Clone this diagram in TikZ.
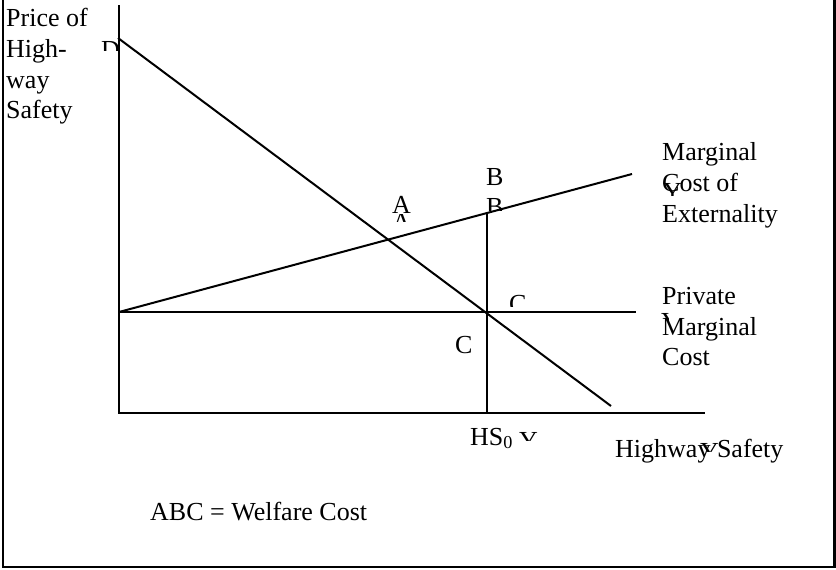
\documentclass[tikz,border=0pt]{standalone}
\usepackage{fontspec}
\setmainfont{Liberation Serif}
\begin{document}
\begin{tikzpicture}[x=1pt,y=-1pt,
  lbl/.style={anchor=base west,inner sep=0pt,font=\fontsize{26}{30}\selectfont},
  curve/.style={line width=2pt},
  frame/.style={line width=2.8pt}]
\useasboundingbox (0,0) rectangle (836,570);
% frame
\draw[frame] (3,-2) -- (3,567) -- (834.3,567) -- (834.3,-2);
% coordinates
\coordinate (ytop) at (119,5);
\coordinate (origin) at (119,413);
\coordinate (xend) at (705,413);
\coordinate (dstart) at (118,38);
\coordinate (dend) at (611,406);
\coordinate (pmcL) at (119,312);
\coordinate (pmcR) at (636,312);
\coordinate (mceR) at (632,174);
\coordinate (hsB) at (487,413);
\coordinate (hsT) at (487,213);
% axes
\draw[curve] (ytop) -- (origin) -- (xend);
% demand
\draw[curve] (dstart) -- (dend);
% private marginal cost
\draw[curve] (pmcL) -- (pmcR);
% marginal cost of externality
\draw[curve] (pmcL) -- (mceR);
% HS0 vertical
\draw[curve] (hsB) -- (hsT);
% labels
\node[lbl] (p1) at (6,26) {Price of};
\node[lbl] (p2) at (6,57) {High-};
\node[lbl] (p3) at (6,88) {way};
\node[lbl] (p4) at (6,118) {Safety};
\node[lbl] (la) at (392,213) {A};
\node[lbl] (lb) at (486,185) {B};
\node[lbl] (lc) at (455,353) {C};
\node[lbl] (m1) at (662,160) {Marginal};
\node[lbl] (m2) at (662,191) {Cost of};
\node[lbl] (m3) at (662,222) {Externality};
\node[lbl] (q1) at (662,304) {Private};
\node[lbl] (q2) at (662,335) {Marginal};
\node[lbl] (q3) at (662,365) {Cost};
\node[lbl] (hs) at (470,445) {HS\textsubscript{0}};
\node[lbl] (hx) at (615,457) {Highway Safety};
\node[lbl] (wc) at (150,520) {ABC = Welfare Cost};
% clipped letter fragments
\begin{scope}\clip (95,36) rectangle (117,50);
\node[lbl] (fd) at (101,58) {D};\end{scope}
\begin{scope}\clip (388,214) rectangle (416,221);
\node[lbl] (fa) at (392,230) {A};\end{scope}
\begin{scope}\clip (482,196) rectangle (506,210);
\node[lbl] (fb) at (486,215) {B};\end{scope}
\begin{scope}\clip (504,292) rectangle (532,306);
\node[lbl] (fc) at (509,312) {C};\end{scope}
\begin{scope}\clip (515,430) rectangle (545,440);
\node[lbl] (fy1) at (519,449) {Y};\end{scope}
\begin{scope}\clip (696,441) rectangle (724,451);
\node[lbl] (fy2) at (700,460) {Y};\end{scope}
\begin{scope}\clip (660,181) rectangle (686,195);
\node[lbl] (fy3) at (663,200) {Y};\end{scope}
\begin{scope}\clip (660,311) rectangle (668,323);
\node[lbl] (fy4) at (661,330) {Y};\end{scope}
\end{tikzpicture}
\end{document}
